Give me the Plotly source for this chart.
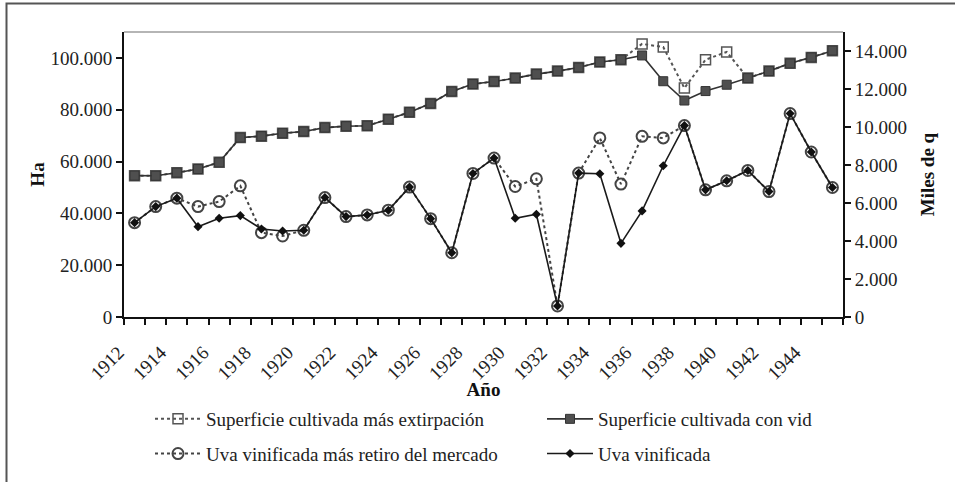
import plotly.graph_objects as go

years = list(range(1912, 1946))
tick_years = list(range(1912, 1946, 2))
boundaries = [y - 0.5 for y in range(1912, 1947)]

sup_vid = [54550, 54500, 55700, 57100, 59700, 69250, 69800, 70950, 71600, 73100,
           73650, 73800, 76350, 79050, 82400, 87050, 89900, 90900, 92200, 93750,
           94900, 96300, 98400, 99300, 100950, 91000, 83550, 87200, 89650, 92200,
           94900, 97900, 100200, 102800]
sup_ext = [54550, 54500, 55700, 57100, 59700, 69250, 69800, 70950, 71600, 73100,
           73650, 73800, 76350, 79050, 82400, 87050, 89900, 90900, 92200, 93750,
           94900, 96300, 98400, 99300, 105400, 104200, 88350, 99300, 102300, 92200,
           94900, 97900, 100200, 102800]
uva = [4966, 5811, 6254, 4754, 5198, 5336, 4633, 4527, 4564, 6286,
       5283, 5372, 5620, 6836, 5177, 3381, 7554, 8367, 5198, 5409,
       581, 7575, 7538, 3877, 5583, 7961, 10074, 6693, 7168, 7713,
       6603, 10708, 8684, 6815]
uva_ret = [4966, 5811, 6254, 5811, 6075, 6904, 4438, 4263, 4564, 6286,
           5283, 5372, 5620, 6836, 5177, 3381, 7554, 8367, 6868, 7274,
           581, 7575, 9424, 6994, 9509, 9424, 10074, 6693, 7168, 7713,
           6603, 10708, 8684, 6815]

left_ticks = [0, 20000, 40000, 60000, 80000, 100000]
right_ticks = [0, 2000, 4000, 6000, 8000, 10000, 12000, 14000]

FONT = "Liberation Serif"
fig = go.Figure()

fig.add_trace(go.Scatter(
    x=years, y=sup_ext, name="Superficie cultivada más extirpación",
    mode="lines+markers", yaxis="y", legend="legend", legendgroup="a",
    line=dict(color="#555555", width=2, dash="dot"),
    marker=dict(symbol="square-open", size=10, color="#555555", line=dict(width=1.5))))
fig.add_trace(go.Scatter(
    x=years, y=uva_ret, name="Uva vinificada más retiro del mercado",
    mode="lines+markers", yaxis="y2", legend="legend", legendgroup="b",
    line=dict(color="#444444", width=2, dash="dot"),
    marker=dict(symbol="circle-open", size=11, color="#444444", line=dict(width=2))))
fig.add_trace(go.Scatter(
    x=years, y=sup_vid, name="Superficie cultivada con vid",
    mode="lines+markers", yaxis="y", legend="legend2", legendgroup="c",
    line=dict(color="#333333", width=1.6),
    marker=dict(symbol="square", size=9, color="#4f4f4f", line=dict(color="#333333", width=1))))
fig.add_trace(go.Scatter(
    x=years, y=uva, name="Uva vinificada",
    mode="lines+markers", yaxis="y2", legend="legend2", legendgroup="d",
    line=dict(color="#1a1a1a", width=1.6),
    marker=dict(symbol="diamond", size=7, color="#111111")))

axis_common = dict(showgrid=False, zeroline=False, linecolor="#111111", linewidth=2,
                   tickcolor="#111111", tickwidth=2, automargin=False,
                   tickfont=dict(family=FONT, size=19, color="#222222"))

legend_common = dict(xref="paper", yref="container", xanchor="left", yanchor="top",
                     orientation="v", tracegroupgap=7, itemwidth=46,
                     bgcolor="rgba(0,0,0,0)",
                     font=dict(family=FONT, size=19, color="#222222"))

fig.update_layout(
    width=955, height=482,
    margin=dict(l=124, r=112, t=32, b=165),
    paper_bgcolor="white", plot_bgcolor="white",
    separators=",.",
    font=dict(family=FONT, size=19, color="#222222"),
    xaxis=dict(**axis_common, range=[1911.5, 1945.5], tickmode="array",
               tickvals=tick_years, ticks="", showline=True, tickangle=-45,
               ticklabelstandoff=15, ticklabelshift=-16,
               minor=dict(tickmode="array", tickvals=boundaries, ticks="outside",
                          ticklen=6, tickwidth=2, tickcolor="#111111"),
               title=dict(text="<b>Año</b>", font=dict(family=FONT, size=19, color="#111111"),
                          standoff=3)),
    xaxis2=dict(overlaying="x", anchor="y", side="bottom", range=[1911.5, 1945.5],
                tickmode="array", tickvals=boundaries, ticks="inside", ticklen=6,
                tickwidth=2, tickcolor="#111111", showticklabels=False,
                showgrid=False, zeroline=False, showline=False),
    yaxis=dict(**axis_common, range=[0, 110000], tickmode="array", tickvals=left_ticks,
               tickformat=",d", ticks="outside", ticklen=6, showline=True,
               title=dict(text="<b>Ha</b>", font=dict(family=FONT, size=19, color="#111111"),
                          standoff=1)),
    yaxis2=dict(**axis_common, range=[0, 15000], tickmode="array", tickvals=right_ticks,
                tickformat=",d", ticks="outside", ticklen=6, showline=True,
                overlaying="y", side="right", anchor="x",
                title=dict(text="<b>Miles de q</b>", font=dict(family=FONT, size=19, color="#111111"),
                           standoff=15)),
    yaxis3=dict(overlaying="y", side="left", anchor="x", range=[0, 110000],
                tickmode="array", tickvals=left_ticks, ticks="inside", ticklen=6,
                tickwidth=2, tickcolor="#111111", showticklabels=False,
                showgrid=False, zeroline=False, showline=False),
    yaxis4=dict(overlaying="y", side="right", anchor="x", range=[0, 15000],
                tickmode="array", tickvals=right_ticks, ticks="inside", ticklen=6,
                tickwidth=2, tickcolor="#111111", showticklabels=False,
                showgrid=False, zeroline=False, showline=False),
    legend=dict(**legend_common, x=(150 - 124) / 719, y=1 - 400 / 482),
    legend2=dict(**legend_common, x=(542 - 124) / 719, y=1 - 400 / 482),
    shapes=[
        dict(type="rect", xref="paper", yref="paper",
             x0=(6.5 - 124) / 719, x1=(990 - 124) / 719,
             y0=(317 - 520) / 285, y1=(317 - 3.5) / 285,
             line=dict(color="#555555", width=2), fillcolor="rgba(0,0,0,0)", layer="below"),
        dict(type="line", xref="paper", yref="paper", x0=0, x1=1, y0=1, y1=1,
             line=dict(color="#b5b5b5", width=2)),
    ],
)

fig.write_html("out.html", config={"displayModeBar": False},
               post_script="document.body.style.margin='0';document.body.style.overflow='hidden';")
